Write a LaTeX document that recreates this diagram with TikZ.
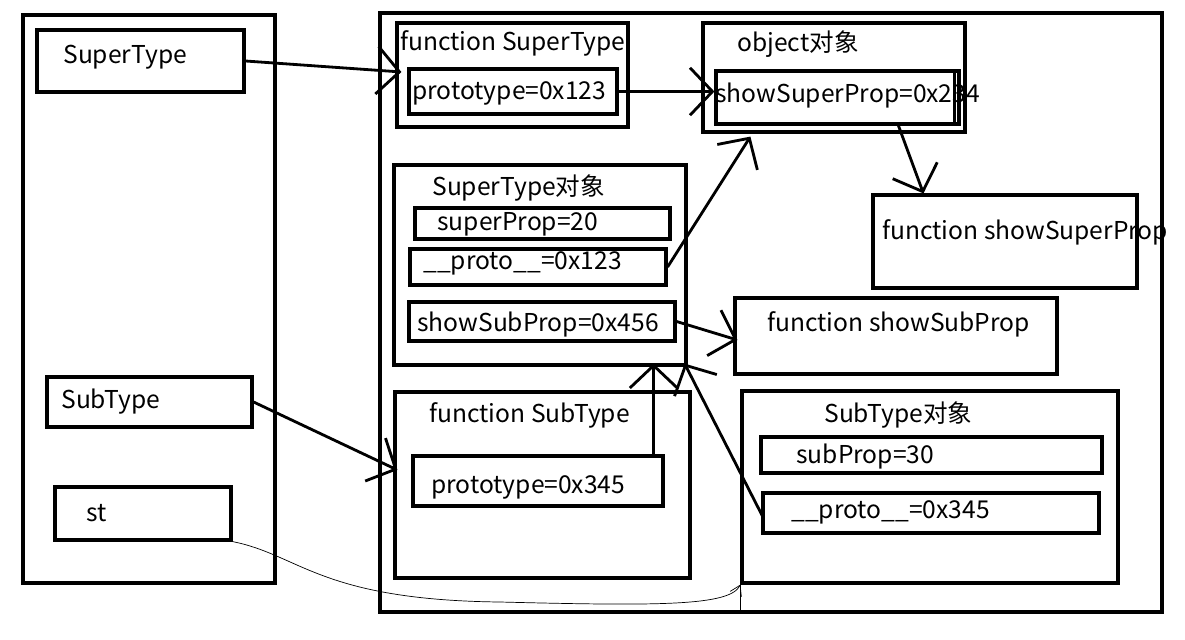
\documentclass[tikz,border=0pt]{standalone}
\usepackage{fontspec}
\setmainfont{Noto Sans CJK SC}
\usetikzlibrary{arrows.meta, fit, calc}

\begin{document}
\begin{tikzpicture}[x=0.02cm, y=-0.02cm,
    box/.style={rectangle, draw, line width=1.8pt, inner sep=0pt},
    lbl/.style={anchor=west, inner sep=0pt, font=\fontsize{14}{16}\selectfont},
    link/.style={line width=1.6pt, -{Straight Barb[length=0.45cm, width=0.95cm, line width=1.6pt]}}]
    \useasboundingbox (0,0) rectangle (1185,639);

    % stack
    \node (stack) [box, fit={(23,15) (275,583)}] {};
    \node (vSuper) [box, fit={(37,30) (244,92)}] {};
    \node (vSuperT) [lbl] at (63,57) {SuperType};
    \node (vSub) [box, fit={(47,377) (252,427)}] {};
    \node (vSubT) [lbl] at (61,402) {SubType};
    \node (vSt) [box, fit={(55,487) (231,540)}] {};
    \node (vStT) [lbl] at (86,513) {st};

    % heap
    \node (heap) [box, fit={(380,13) (1162,612)}] {};
    \node (fnSuper) [box, fit={(397,23) (628,127)}] {};
    \node (fnSuperT) [lbl] at (400,43) {function SuperType};
    \node (fnSuperProto) [box, fit={(409,69) (617,114)}] {};
    \node (fnSuperProtoT) [lbl] at (412,93) {prototype=0x123};

    \node (objProto) [box, fit={(703,23) (965,132)}] {};
    \node (objProtoT) [lbl] at (737,44) {object对象};
    \node (objShow) [box, fit={(716,71) (959,124)}] {};
    \node (objShowT) [lbl] at (715,96) {showSuperProp=0x234};
    \draw[line width=1.8pt] ($(objShow.north east)+(-6,0)$) -- ($(objShow.south east)+(-6,0)$);

    \node (fnShowSuper) [box, fit={(873,195) (1137,288)}] {};
    \node (fnShowSuperT) [lbl] at (882,232) {function showSuperProp};
    \node (fnShowSub) [box, fit={(735,298) (1057,374)}] {};
    \node (fnShowSubT) [lbl] at (767,324) {function showSubProp};

    \node (superObj) [box, fit={(394,165) (686,365)}] {};
    \node (superObjT) [lbl] at (432,188) {SuperType对象};
    \node (spProp) [box, fit={(415,208) (670,239)}] {};
    \node (spPropT) [lbl] at (437,224) {superProp=20};
    \node (spProto) [box, fit={(410,249) (666,285)}] {};
    \node (spProtoT) [lbl] at (423,263) {\_\_proto\_\_=0x123};
    \node (spShow) [box, fit={(409,302) (675,341)}] {};
    \node (spShowT) [lbl] at (417,325) {showSubProp=0x456};

    \node (fnSub) [box, fit={(395,392) (690,578)}] {};
    \node (fnSubT) [lbl] at (429,415) {function SubType};
    \node (fnSubProto) [box, fit={(413,456) (663,506)}] {};
    \node (fnSubProtoT) [lbl] at (431,487) {prototype=0x345};

    \node (subObj) [box, fit={(742,391) (1118,583)}] {};
    \node (subObjT) [lbl] at (824,415) {SubType对象};
    \node (sbProp) [box, fit={(761,437) (1102,473)}] {};
    \node (sbPropT) [lbl] at (796,457) {subProp=30};
    \node (sbProto) [box, fit={(763,493) (1099,533)}] {};
    \node (sbProtoT) [lbl] at (791,512) {\_\_proto\_\_=0x345};

    % references
    \draw[link] (vSuper.east) -- ($(fnSuper.west)+(6,-3)$);
    \draw[link] (fnSuperProto.east) -- (fnSuperProto.east -| objShow.west);
    \draw[link] (spProto.east) -- ($(objProto.south west)+(49,3)$);
    \draw[link] ($(objShow.south west)+(184,0)$) -- ($(fnShowSuper.north west)+(52,0)$);
    \draw[link] (spShow.east) -- ($(fnShowSub.west)+(4,4)$);
    \draw[link] (vSub.east) -- ($(fnSub.west)+(4,-15)$);
    \draw[link] ($(fnSubProto.north east)+(-11,0)$) -- ($(superObj.south east)+(-34,-3)$);
    \draw[link] ($(sbProto.west)+(2,5)$) -- ($(superObj.south east)+(-3,-3)$);

    \draw[thin, -{Straight Barb[length=0.2cm, width=0.25cm]}] (vSt.south east) .. controls (300,555) and (320,600) .. (500,602) .. controls (660,606) and (730,606) .. (subObj.south west);
    \draw[thin] (subObj.south west) -- (subObj.south west |- heap.south);
\end{tikzpicture}
\end{document}
